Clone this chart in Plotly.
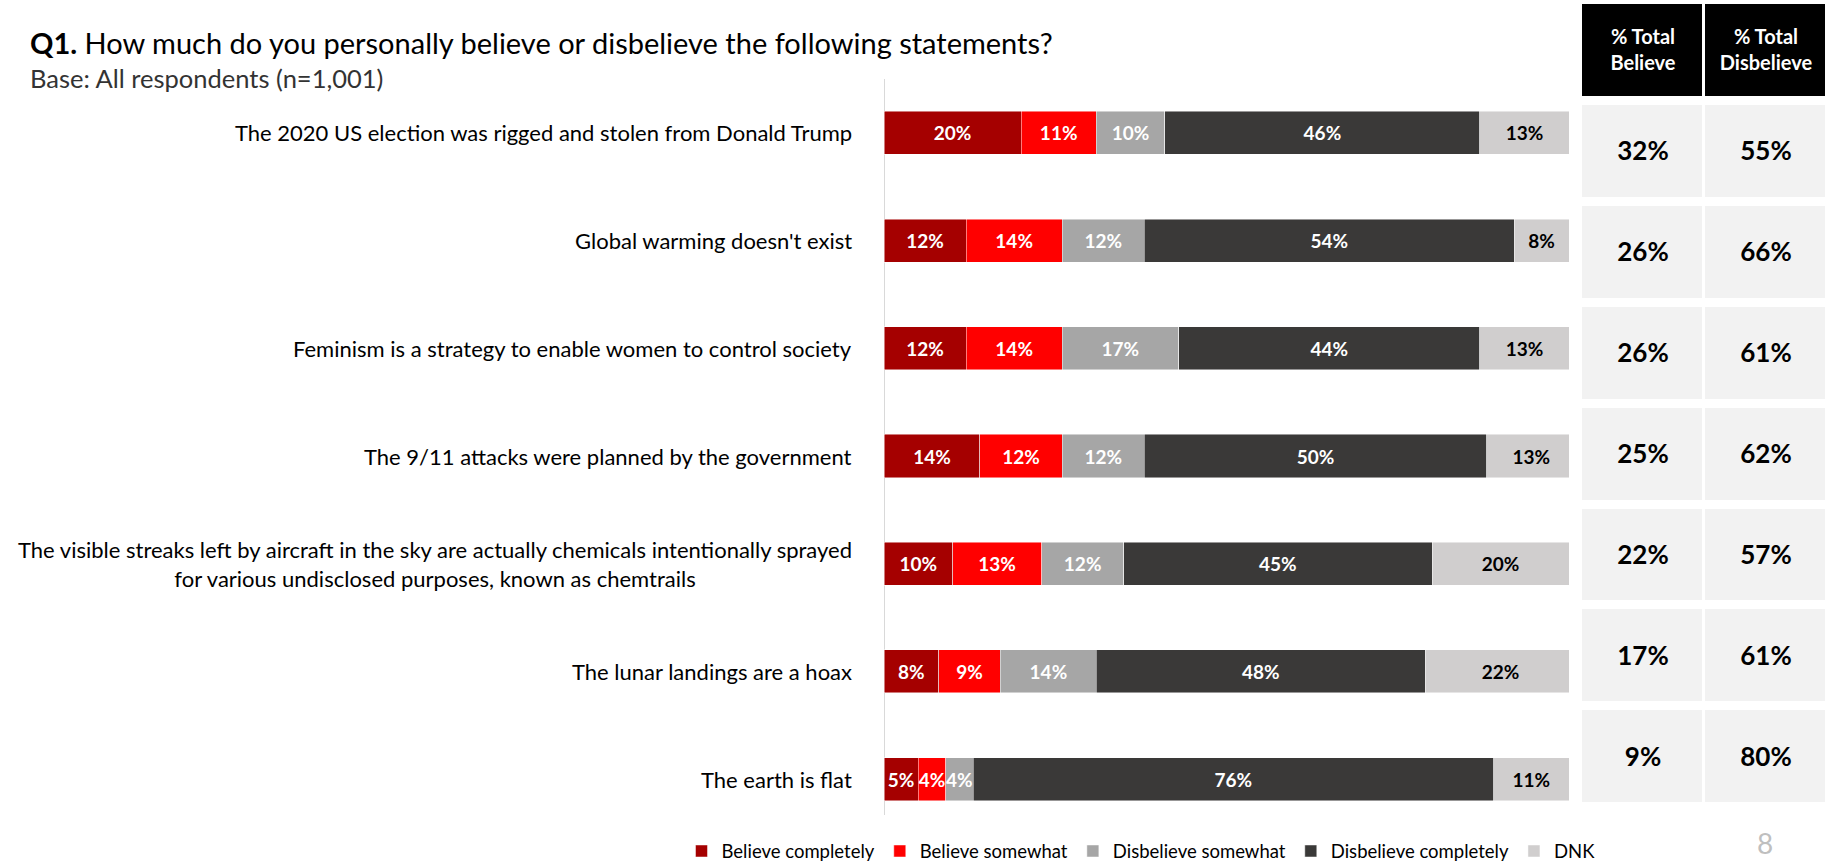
import plotly.graph_objects as go

# ---------------- data ----------------
statements = [
    "The 2020 US election was rigged and stolen from Donald Trump",
    "Global warming doesn't exist",
    "Feminism is a strategy to enable women to control society",
    "The 9/11 attacks were planned by the government",
    "The visible streaks left by aircraft in the sky are actually chemicals intentionally sprayed<br>for various undisclosed purposes, known as chemtrails",
    "The lunar landings are a hoax",
    "The earth is flat",
]
series_names = ["Believe completely", "Believe somewhat", "Disbelieve somewhat",
                "Disbelieve completely", "DNK"]
believe_completely = [20, 12, 12, 14, 10, 8, 5]
believe_somewhat = [11, 14, 14, 12, 13, 9, 4]
disbelieve_somewhat = [10, 12, 17, 12, 12, 14, 4]
disbelieve_completely = [46, 54, 44, 50, 45, 48, 76]
dnk = [13, 8, 13, 13, 20, 22, 11]
total_believe = [32, 26, 26, 25, 22, 17, 9]
total_disbelieve = [55, 66, 61, 62, 57, 61, 80]
table_columns = ["believe", "disbelieve"]
table_headers = ["% Total<br>Believe", "% Total<br>Disbelieve"]

# ---------------- style ----------------
W, H = 1827, 861
FONT = "Lato"
colors = ["#A50000", "#FF0000", "#A6A6A6", "#3A3938", "#D0CECE"]
text_colors = ["white", "white", "white", "white", "black"]

def px_x(p):
    return min(max(p / W, 0), 1)

def px_y(p):
    return min(max(1 - p / H, 0), 1)

fig = go.Figure()

series = [believe_completely, believe_somewhat, disbelieve_somewhat,
          disbelieve_completely, dnk]
for name, vals, col, tcol in zip(series_names, series, colors, text_colors):
    fig.add_trace(go.Bar(
        y=statements, x=vals, name=name, orientation="h",
        marker=dict(color=col, line=dict(width=0.8, color="rgba(255,255,255,0.6)")),
        text=[f"{v}%" for v in vals], textposition="inside",
        insidetextanchor="middle", textangle=0, constraintext="none",
        textfont=dict(family=FONT, size=19, color=tcol),
        texttemplate="<b>%{text}</b>",
        hoverinfo="skip",
    ))

# Table via heatmaps on second axes (row 0 = header, rows 1..7 = statements)
row_index = list(range(1, len(statements) + 1))
fig.add_trace(go.Heatmap(
    z=[[0, 0]], x=table_columns, y=[0],
    text=[table_headers], texttemplate="<b>%{text}</b>",
    textfont=dict(family=FONT, size=20, color="white"),
    colorscale=[[0, "#000000"], [1, "#000000"]], showscale=False,
    xgap=3, ygap=9, xaxis="x2", yaxis="y2", hoverinfo="skip",
    showlegend=False,
))
fig.add_trace(go.Heatmap(
    z=[[1, 1] for _ in statements], x=table_columns, y=row_index,
    text=[[f"{b}%", f"{d}%"] for b, d in zip(total_believe, total_disbelieve)],
    texttemplate="<b>%{text}</b>",
    textfont=dict(family=FONT, size=26, color="black"),
    colorscale=[[0, "#F2F2F2"], [1, "#F2F2F2"]], showscale=False,
    xgap=3, ygap=9, xaxis="x2", yaxis="y2", hoverinfo="skip",
    showlegend=False,
))

annotations = []
# category labels (centered multi-line, right-anchored)
for s in statements:
    annotations.append(dict(
        x=px_x(854), xref="paper", xanchor="right", y=s, yref="y",
        text=s, showarrow=False, align="center",
        font=dict(family=FONT, size=22, color="black"),
    ))
annotations += [
    dict(x=px_x(28), y=px_y(42), xref="paper", yref="paper", xanchor="left",
         yanchor="middle", showarrow=False,
         text="<b>Q1.</b> How much do you personally believe or disbelieve the following statements?",
         font=dict(family=FONT, size=29, color="black")),
    dict(x=px_x(28), y=px_y(78), xref="paper", yref="paper", xanchor="left",
         yanchor="middle", showarrow=False,
         text="Base: All respondents (n=1,001)",
         font=dict(family=FONT, size=25.5, color="#333333")),
    dict(x=px_x(1765), y=px_y(843), xref="paper", yref="paper", xanchor="center",
         yanchor="middle", showarrow=False, text="8",
         font=dict(family=FONT, size=28, color="#BFBFBF")),
]

# vertical baseline at value 0 of the bar axis
shapes = [dict(type="line", xref="x", x0=0, x1=0, yref="paper",
               y0=px_y(815), y1=px_y(79),
               line=dict(color="#D9D9D9", width=2), layer="below")]

fig.update_layout(
    width=W, height=H, margin=dict(l=0, r=0, t=0, b=0, autoexpand=False),
    paper_bgcolor="white", plot_bgcolor="white",
    barmode="stack", bargap=0.6,
    font=dict(family=FONT, color="black"),
    xaxis=dict(domain=[px_x(884), px_x(1569)], range=[0, 100], visible=False,
               fixedrange=True),
    yaxis=dict(domain=[px_y(833), px_y(79)], autorange="reversed",
               showticklabels=False, showgrid=False, zeroline=False,
               showline=False, ticks=""),
    xaxis2=dict(domain=[px_x(1581), px_x(1827)], visible=False, anchor="y2"),
    yaxis2=dict(domain=[px_y(807), px_y(-3)], visible=False, anchor="x2",
                range=[7.5, -0.5]),
    showlegend=True,
    legend=dict(orientation="h", x=px_x(1141), xanchor="center",
                y=-0.011, yanchor="bottom", traceorder="normal",
                font=dict(family=FONT, size=18.5, color="black"),
                itemwidth=30, bgcolor="rgba(0,0,0,0)"),
    annotations=annotations,
    shapes=shapes,
)

fig.write_html("out.html", config={"displayModeBar": False},
               post_script="document.body.style.margin='0';document.body.style.overflow='hidden';")
